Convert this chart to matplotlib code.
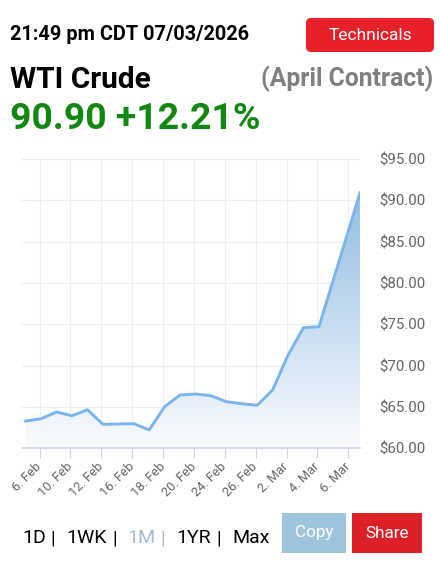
import numpy as np
import matplotlib
matplotlib.use("Agg")
import matplotlib.pyplot as plt
from matplotlib.patches import FancyBboxPatch

plt.rcParams['font.family'] = ['Roboto', 'DejaVu Sans']

# data: trading-day position and price
day_pos = [0.1, 1.1, 2.1, 3.1, 4.1, 5.1, 6.1, 7.1, 8.1, 9.1, 10.1,
           11.1, 12.1, 13.1, 14.1, 15.1, 16.1, 17.1, 18.1, 19.1, 21.76]
price = [63.30, 63.58, 64.39, 63.94, 64.67, 62.90, 62.94, 62.98, 62.22, 65.03, 66.45,
         66.57, 66.37, 65.64, 65.40, 65.20, 67.05, 71.29, 74.59, 74.71, 90.90]
tick_pos = [1, 3, 5, 7, 9, 11, 13, 15, 17, 19, 21]
tick_labels = ['6. Feb', '10. Feb', '12. Feb', '16. Feb', '18. Feb', '20. Feb',
               '24. Feb', '26. Feb', '2. Mar', '4. Mar', '6. Mar']
y_ticks = [60, 65, 70, 75, 80, 85, 90, 95]

W, H = 440, 568
fig = plt.figure(figsize=(W / 100, H / 100), dpi=100)
fig.patch.set_facecolor('white')

def fx(x):
    return x / W

def fy(y):
    return 1 - y / H

# plot area
ax = fig.add_axes([fx(22), fy(448.3), fx(360) - fx(22), fy(159) - fy(448.3)])
xmin, xmax = -0.14, 21.76
ax.set_xlim(xmin, xmax)
ax.set_ylim(60, 95)

# gradient fill under the line
poly = ax.fill_between(day_pos, price, 60, color='none', lw=0)
top = np.array([146, 188, 226]) / 255
bot = np.array([250, 252, 255]) / 255
t = np.linspace(0, 1, 256)[:, None]
grad = (top * (1 - t) + bot * t)[:, None, :]
grad = np.repeat(grad, 2, axis=1)
im = ax.imshow(grad, extent=[xmin, xmax, 60, 91], aspect='auto', origin='upper', zorder=1)
im.set_clip_path(poly.get_paths()[0], transform=ax.transData)

ax.plot(day_pos, price, color='#7cb5ec', lw=2.1, zorder=3, solid_joinstyle='round')

ax.set_xlim(xmin, xmax)
ax.set_ylim(60, 95)

ax.set_xticks(tick_pos)
ax.set_xticklabels(tick_labels, rotation=45, ha='right', va='center',
                   rotation_mode='anchor', fontsize=9.3, color='#666666')
ax.set_yticks(y_ticks)
ax.set_yticklabels(['$%.2f' % v for v in y_ticks], fontsize=10.8, color='#666666')
ax.yaxis.tick_right()
ax.tick_params(axis='y', length=0, pad=13.5)
ax.tick_params(axis='x', length=7, width=0.8, color='#ccd6eb', pad=5)

ax.grid(True, color='#eeeeee', lw=0.8, zorder=0)
ax.set_axisbelow(True)
for s in ['top', 'right', 'left']:
    ax.spines[s].set_visible(False)
ax.spines['bottom'].set_color('#ccd6eb')
ax.spines['bottom'].set_linewidth(1.2)
ax.set_facecolor('white')

# header
fig.text(fx(10), fy(40), '21:49 pm CDT 07/03/2026', fontsize=14.3, fontweight='bold',
         color='black', va='baseline', ha='left')
fig.text(fx(10), fy(88), 'WTI Crude', fontsize=21.5, fontweight='bold',
         color='black', va='baseline', ha='left')
fig.text(fx(433), fy(86), '(April Contract)', fontsize=17.8, fontweight='bold',
         color='#808080', va='baseline', ha='right')
fig.text(fx(10), fy(129), '90.90 +12.21%', fontsize=26.9, fontweight='bold',
         color='#118811', va='baseline', ha='left')

def button(x0, y0, x1, y1, color, label, size, rounding):
    box = FancyBboxPatch((x0 / 100, (H - y1) / 100), (x1 - x0) / 100, (y1 - y0) / 100,
                         boxstyle='round,pad=0,rounding_size=%f' % (rounding / 100),
                         transform=fig.dpi_scale_trans, facecolor=color, edgecolor='none')
    fig.add_artist(box)
    fig.text(fx((x0 + x1) / 2), fy((y0 + y1) / 2), label, fontsize=size, color='white',
             ha='center', va='center')

button(306, 18, 434, 52, '#e8202a', 'Technicals', 12.5, 5)
button(282, 513, 346, 553, '#9fc5de', 'Copy', 12.3, 0.01)
button(352, 513, 422, 553, '#dc2027', 'Share', 12.3, 0.01)

# range selector
yb = fy(543)
fig.text(fx(22), yb, '1D', fontsize=14, color='black', va='baseline')
fig.text(fx(53), yb, '|', fontsize=14, color='black', va='baseline', ha='center')
fig.text(fx(66.7), yb, '1WK', fontsize=14, color='black', va='baseline')
fig.text(fx(115), yb, '|', fontsize=14, color='black', va='baseline', ha='center')
fig.text(fx(127.7), yb, '1M', fontsize=14, color='#a4bccb', va='baseline')
fig.text(fx(163), yb, '|', fontsize=14, color='#a4bccb', va='baseline', ha='center')
fig.text(fx(176.7), yb, '1YR', fontsize=14, color='black', va='baseline')
fig.text(fx(219), yb, '|', fontsize=14, color='black', va='baseline', ha='center')
fig.text(fx(232), yb, 'Max', fontsize=14, color='black', va='baseline')

fig.savefig('out.png', dpi=100)
